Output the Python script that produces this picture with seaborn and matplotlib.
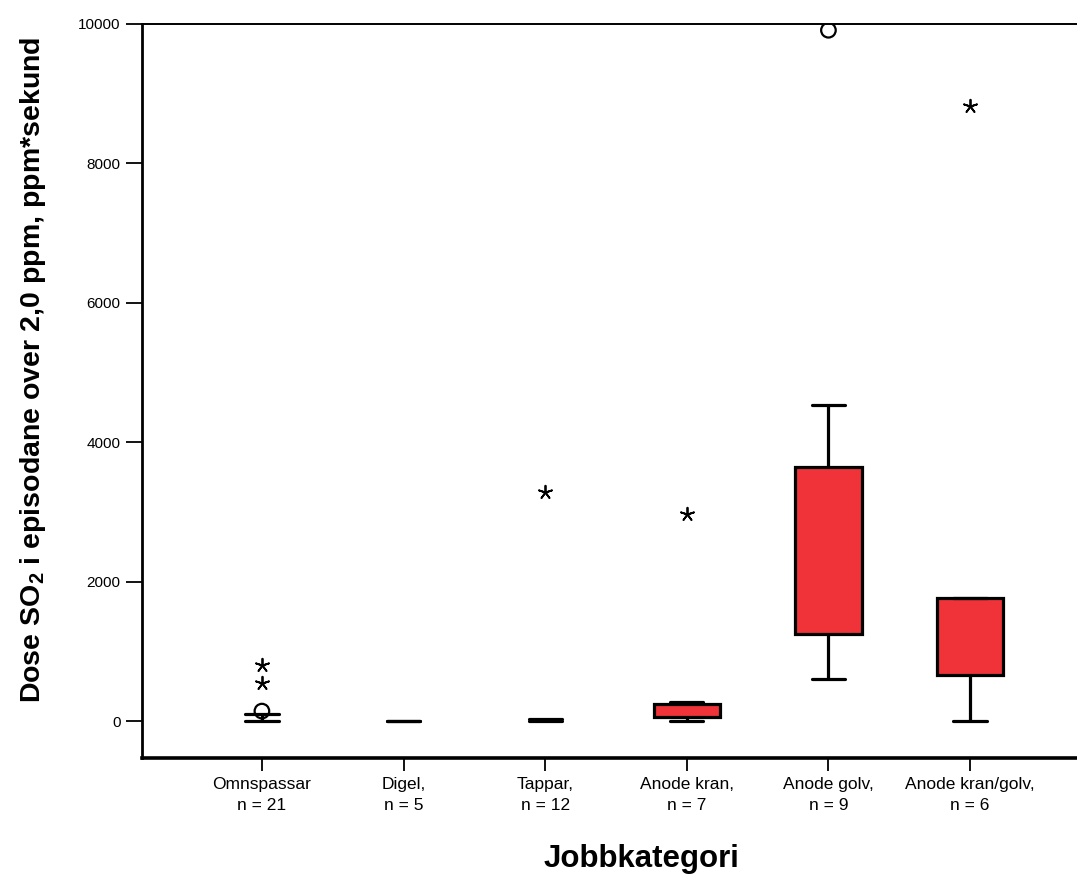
import numpy as np
import pandas as pd
import matplotlib
matplotlib.use("Agg")
import matplotlib.pyplot as plt
import seaborn as sns

# ---- data ----
categories = ["Omnspassar", "Digel,", "Tappar,", "Anode kran,", "Anode golv,", "Anode kran/golv,"]
n_counts = [21, 5, 12, 7, 9, 6]
# five-number summaries per category: lower whisker, Q1, median, Q3, upper whisker
box_low = [0, 0, 0, 0, 600, 0]
box_q1 = [0, 0, 0, 60, 1250, 660]
box_median = [0, 0, 0, 150, 2200, 1300]
box_q3 = [0, 0, 0, 245, 3640, 1765]
box_high = [100, 0, 30, 270, 4540, 1765]
# outliers (circles) and extremes (stars)
circle_cat = ["Omnspassar", "Anode golv,"]
circle_val = [143, 9910]
star_cat = ["Omnspassar", "Omnspassar", "Tappar,", "Anode kran,", "Anode kran/golv,"]
star_val = [803, 545, 3285, 2970, 8820]

yticks = [0, 2000, 4000, 6000, 8000, 10000]

rows = []
for i, c in enumerate(categories):
    for v in (box_low[i], box_q1[i], box_median[i], box_q3[i], box_high[i]):
        rows.append({"cat": c, "val": v})
df = pd.DataFrame(rows)

sns.set_style("white")
plt.rcParams["font.family"] = ["Liberation Sans", "DejaVu Sans"]
plt.rcParams["mathtext.fontset"] = "custom"
plt.rcParams["mathtext.rm"] = "Liberation Sans"
plt.rcParams["mathtext.bf"] = "Liberation Sans:bold"
for k in ("text.color", "axes.labelcolor", "xtick.color", "ytick.color", "axes.edgecolor"):
    plt.rcParams[k] = "black"

fig = plt.figure(figsize=(10.77, 8.81), dpi=100)
ax = fig.add_axes([0.1318, 0.1396, 0.8682, 0.8332])

red = "#EF3339"
sns.boxplot(data=df, x="cat", y="val", order=categories, whis=(0, 100),
            showfliers=False, color=red, saturation=1, width=0.47,
            linewidth=2.3, linecolor="black",
            medianprops={"linewidth": 0, "alpha": 0}, ax=ax)

# hide degenerate (zero-height) boxes, as in the reference
for p in ax.patches:
    ext = p.get_path().get_extents()
    if ext.height <= 1e-9:
        p.set_visible(False)

pos = {c: i for i, c in enumerate(categories)}
ax.scatter([pos[c] for c in circle_cat], circle_val, s=110, marker="o",
           facecolors="none", edgecolors="black", linewidths=1.6, zorder=5)
ax.scatter([pos[c] for c in star_cat], star_val, s=95, marker=(5, 2, 0),
           color="black", linewidths=1.3, zorder=5)

ax.set_xlim(-0.847, 5.755)
ax.set_ylim(-530, 10000)
ax.set_yticks(yticks)
ax.set_yticklabels([str(t) for t in yticks], fontsize=11)
ax.set_xticks(range(len(categories)))
ax.set_xticklabels([f"{c}\nn = {n}" for c, n in zip(categories, n_counts)],
                   fontsize=12.5, linespacing=1.55)

ax.tick_params(axis="y", direction="out", length=11.5, width=1.3, pad=4, left=True)
ax.tick_params(axis="x", direction="out", length=9.5, width=1.3, pad=4, bottom=True)

for side in ("left", "bottom", "top"):
    ax.spines[side].set_visible(True)
    ax.spines[side].set_color("black")
ax.spines["left"].set_linewidth(2.0)
ax.spines["bottom"].set_linewidth(2.6)
ax.spines["top"].set_linewidth(1.4)
ax.spines["right"].set_visible(False)

ax.set_ylabel(r"Dose SO$_\mathbf{2}$ i episodane over 2,0 ppm, ppm*sekund",
              fontsize=20.5, fontweight="bold")
ax.yaxis.set_label_coords(-0.100, 0.529)
ax.set_xlabel("Jobbkategori", fontsize=22.5, fontweight="bold")
ax.xaxis.set_label_coords(0.534, -0.117)

fig.savefig("out.png", dpi=100)
